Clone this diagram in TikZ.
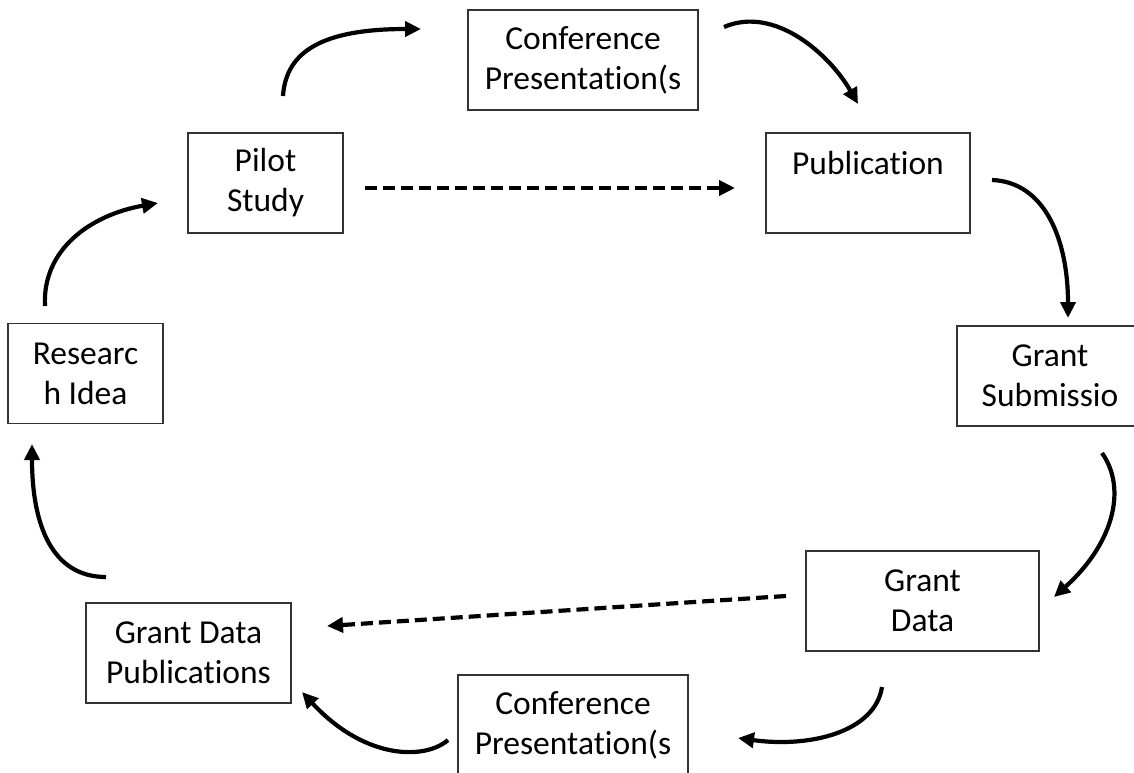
\documentclass[tikz,border=0pt]{standalone}
\usepackage{fontspec}
\setmainfont{Carlito}[Ligatures=NoCommon]
\usetikzlibrary{arrows.meta}
\begin{document}
\begin{tikzpicture}[x=1pt,y=-1pt,
  box/.style={draw=black!80, line width=1.3pt, rectangle, inner sep=0pt,
    minimum height=100pt, align=center, font=\fontsize{33.5}{40}\selectfont},
  flow/.style={line width=4.2pt, -{Triangle[length=16pt,width=15pt]}},
  skip/.style={line width=4.2pt, dash pattern=on 12pt off 6pt, -{Triangle[length=16pt,width=15pt]}}]
\useasboundingbox (0,0) rectangle (1134,772);
\clip (0,0) rectangle (1134,772);
% boxes
\node[box, minimum width=155pt] (idea) at (85.5,373.5) {Researc\\h Idea};
\node[box, minimum width=155pt] (pilot) at (265.5,183) {Pilot\\Study};
\node[box, minimum width=230pt] (conf1) at (583,60) {Conference\\Presentation(s};
\node[box, minimum width=204pt] (pub) at (868,183) {Publication\\\mbox{}};
\node[box, minimum width=186pt] (grant) at (1050,376) {Grant\\Submissio};
\node[box, minimum width=233pt] (gdata) at (922.5,601) {Grant\\Data};
\node[box, minimum width=230pt] (conf2) at (573,725) {Conference\\Presentation(s};
\node[box, minimum width=205pt] (gdp) at (188.5,653) {Grant Data\\Publications};
% connector ends
\coordinate (a1s) at (45,306);   \coordinate (a1e) at (158,203);
\coordinate (a2s) at (283,96);   \coordinate (a2e) at (421,29);
\coordinate (a3s) at (724,27);   \coordinate (a3e) at (858,104);
\coordinate (a4s) at (992,180);  \coordinate (a4e) at (1068,318);
\coordinate (a5s) at (1102,453); \coordinate (a5e) at (1054,597);
\coordinate (a6s) at (882,687);  \coordinate (a6e) at (738,738);
\coordinate (a7s) at (448,740);  \coordinate (a7e) at (302,692);
\coordinate (a8s) at (106,577);  \coordinate (a8e) at (32,444);
\coordinate (d1s) at (365,188);  \coordinate (d1e) at (735,188);
\coordinate (d2s) at (786,596);  \coordinate (d2e) at (327,626);
% connectors
\draw[flow] (a1s) .. controls (42,250) and (90,215) .. (a1e);
\draw[flow] (a2s) .. controls (286,50) and (325,29) .. (a2e);
\draw[flow] (a3s) .. controls (775,5) and (830,55) .. (a3e);
\draw[flow] (a4s) .. controls (1045,182) and (1068,240) .. (a4e);
\draw[flow] (a5s) .. controls (1128,490) and (1112,545) .. (a5e);
\draw[flow] (a6s) .. controls (875,732) and (810,748) .. (a6e);
\draw[flow] (a7s) .. controls (425,760) and (365,760) .. (a7e);
\draw[flow] (a8s) .. controls (52,577) and (32,525) .. (a8e);
\draw[skip] (d1s) -- (d1e);
\draw[skip] (d2s) -- (d2e);
\end{tikzpicture}
\end{document}
